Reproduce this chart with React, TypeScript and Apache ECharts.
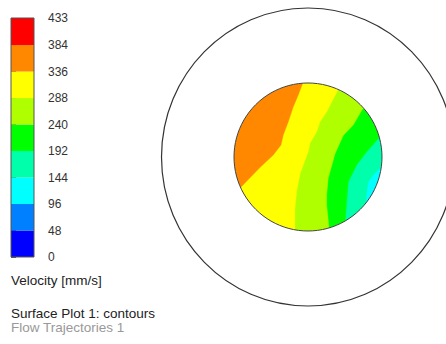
import React, { useEffect, useRef } from "react";
import * as echarts from "echarts";

// Colour legend (velocity, mm/s)
const legendLevels = [0, 48, 96, 144, 192, 240, 288, 336, 384, 433];
const legendColors = [
  "#0000ff",
  "#0080ff",
  "#00ffff",
  "#00ffaa",
  "#00ff00",
  "#b0ff00",
  "#ffff00",
  "#ff8800",
  "#ff0000",
];

// Contour band boundaries in the unit disc (x right, y up), top to bottom
const boundaryOrangeYellow: [number, number][] = [
  [-0.061, 1.108], [-0.072, 0.996], [-0.131, 0.838], [-0.199, 0.68],
  [-0.266, 0.477], [-0.334, 0.297], [-0.365, 0.162], [-0.469, 0.027],
  [-0.649, -0.142], [-0.878, -0.378], [-1.081, -0.581],
];
const boundaryYellowLime: [number, number][] = [
  [0.5, 1.068], [0.405, 0.905], [0.253, 0.612], [0.162, 0.473],
  [0.118, 0.342], [0.027, 0.185], [0.004, 0.072], [-0.108, -0.23],
  [-0.153, -0.469], [-0.176, -0.693], [-0.176, -0.986], [-0.176, -1.19],
];
const boundaryLimeGreen: [number, number][] = [
  [0.865, 0.797], [0.73, 0.635], [0.612, 0.432], [0.477, 0.291],
  [0.365, 0.041], [0.274, -0.288], [0.253, -0.514], [0.253, -0.649],
  [0.274, -0.851], [0.297, -1.122],
];
const boundaryGreenAqua: [number, number][] = [
  [1.081, 0.365], [0.946, 0.243], [0.793, 0.072], [0.658, -0.108],
  [0.545, -0.334], [0.523, -0.604], [0.507, -0.811], [0.514, -1.054],
];
const boundaryAquaCyan: [number, number][] = [
  [1.135, -0.014], [0.986, -0.135], [0.882, -0.243], [0.815, -0.334],
  [0.793, -0.469], [0.784, -0.581], [0.784, -0.784],
];
const boundaryFull: [number, number][] = [[1.2, 1.2], [1.2, -1.2]];

// Each layer fills everything left of its boundary (painted right to left)
const contourLayers = [
  { boundary: boundaryFull, color: "#00ffff" },
  { boundary: boundaryAquaCyan, color: "#00ffaa" },
  { boundary: boundaryGreenAqua, color: "#00ff00" },
  { boundary: boundaryLimeGreen, color: "#b0ff00" },
  { boundary: boundaryYellowLime, color: "#ffff00" },
  { boundary: boundaryOrangeYellow, color: "#ff8800" },
];

const FONT = "'Liberation Sans', Arial, sans-serif";

export default function App() {
  const ref = useRef<HTMLDivElement>(null);
  useEffect(() => {
    if (!ref.current) return;
    const chart = echarts.init(ref.current, undefined, { renderer: "svg" });
    const E = 1.2;
    const option: any = {
      animation: false,
      backgroundColor: "#ffffff",
      grid: [
        {
          left: 11,
          top: 18,
          width: 23,
          height: 239,
          show: true,
          borderColor: "#555555",
          borderWidth: 1,
          backgroundColor: "transparent",
          z: 10,
        },
        { left: 234, top: 83, width: 148, height: 148 },
      ],
      xAxis: [
        { gridIndex: 0, type: "value", min: 0, max: 1, show: false },
        { gridIndex: 1, type: "value", min: -1, max: 1, show: false },
      ],
      yAxis: [
        {
          gridIndex: 0,
          type: "value",
          min: 0,
          max: 433,
          position: "right",
          splitLine: { show: false },
          axisLine: { show: false },
          axisTick: {
            show: true,
            customValues: legendLevels,
            length: 5,
            lineStyle: { color: "#555555", width: 1 },
          },
          axisLabel: {
            customValues: legendLevels,
            margin: 14,
            fontSize: 12,
            color: "#333333",
            fontFamily: FONT,
            showMinLabel: true,
            showMaxLabel: true,
          },
        },
        { gridIndex: 1, type: "value", min: -1, max: 1, show: false },
      ],
      series: [
        {
          type: "custom",
          xAxisIndex: 0,
          yAxisIndex: 0,
          data: legendColors.map((_, i) => [0, legendLevels[i], legendLevels[i + 1]]),
          renderItem: (params: any, api: any) => {
            const lo = api.value(1);
            const hi = api.value(2);
            const p0 = api.coord([0, hi]);
            const p1 = api.coord([1, lo]);
            return {
              type: "rect",
              shape: { x: p0[0], y: p0[1], width: p1[0] - p0[0], height: p1[1] - p0[1] },
              style: { fill: legendColors[params.dataIndex] },
            };
          },
        },
        {
          type: "custom",
          xAxisIndex: 1,
          yAxisIndex: 1,
          data: contourLayers.map((_, i) => [0, 0, i]),
          renderItem: (params: any, api: any) => {
            const layer = contourLayers[params.dataIndex];
            const b = layer.boundary;
            const first = b[0];
            const last = b[b.length - 1];
            const pts = [
              ...b,
              [last[0], -E],
              [-E, -E],
              [-E, E],
              [first[0], E],
            ].map((p) => api.coord(p));
            return {
              type: "polygon",
              shape: { points: pts },
              style: { fill: layer.color, stroke: layer.color, lineWidth: 0.3 },
            };
          },
        },
      ],
      graphic: [
        {
          type: "ring",
          shape: { cx: 308, cy: 157, r: 130, r0: 74 },
          style: { fill: "#ffffff" },
          z: 50,
          silent: true,
        },
        {
          type: "circle",
          shape: { cx: 308, cy: 157, r: 74 },
          style: { fill: "none", stroke: "#444444", lineWidth: 1 },
          z: 60,
        },
        {
          type: "ellipse",
          shape: { cx: 308, cy: 157, rx: 146.5, ry: 149 },
          style: { fill: "none", stroke: "#333333", lineWidth: 1.2 },
          z: 60,
        },
        {
          type: "text",
          x: 11,
          y: 280.5,
          style: {
            text: "Velocity [mm/s]",
            fontSize: 13.5,
            fill: "#222222",
            fontFamily: FONT,
            verticalAlign: "middle",
          },
          z: 60,
        },
        {
          type: "text",
          x: 11,
          y: 313,
          style: {
            text: "Surface Plot 1: contours",
            fontSize: 13.5,
            fill: "#222222",
            fontFamily: FONT,
            verticalAlign: "middle",
          },
          z: 60,
        },
        {
          type: "text",
          x: 11,
          y: 327,
          style: {
            text: "Flow Trajectories 1",
            fontSize: 13.5,
            fill: "#999999",
            fontFamily: FONT,
            verticalAlign: "middle",
          },
          z: 60,
        },
      ],
    };
    chart.setOption(option);
    return () => chart.dispose();
  }, []);
  return (
    <div
      ref={ref}
      style={{ position: "fixed", left: 0, top: 0, width: 446, height: 344, background: "#fff" }}
    />
  );
}
